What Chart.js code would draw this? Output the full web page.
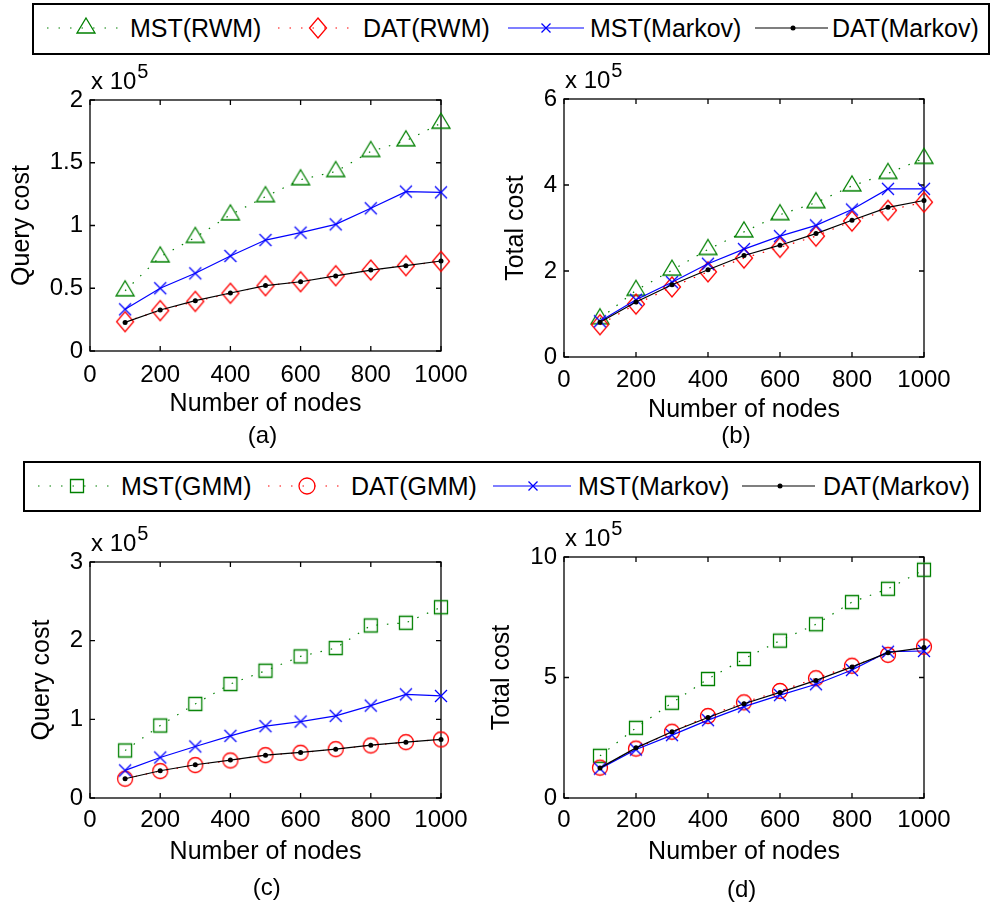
<!DOCTYPE html>
<html>
<head>
<meta charset="utf-8">
<script src="https://cdn.jsdelivr.net/npm/chart.js@4.4.1/dist/chart.umd.min.js"></script>
<style>
  html, body { margin: 0; padding: 0; background: #fff; }
  body { width: 995px; height: 904px; position: relative; overflow: hidden;
         font-family: "Liberation Sans", Arial, Helvetica, sans-serif; color: #000; }
  canvas { position: absolute; }
  .legend { position: absolute; border: 2px solid #000; box-sizing: border-box; }
  .item { position: absolute; font-size: 25px; line-height: 30px; white-space: nowrap; }
  .sub { position: absolute; width: 100px; text-align: center; font-size: 24px; line-height: 28px; }
</style>
</head>
<body>
<canvas id="chartA"></canvas>
<canvas id="chartB"></canvas>
<canvas id="chartC"></canvas>
<canvas id="chartD"></canvas>
<div id="overlay"></div>
<script>
// ---- data (values in units of 10^5) ----
const nodes = [100, 200, 300, 400, 500, 600, 700, 800, 900, 1000];
const xTickValues = [0, 200, 400, 600, 800, 1000];

const namesRwm = ['MST(RWM)', 'DAT(RWM)', 'MST(Markov)', 'DAT(Markov)'];
const namesGmm = ['MST(GMM)', 'DAT(GMM)', 'MST(Markov)', 'DAT(Markov)'];

// (a) query cost, RWM vs Markov
const aTicks      = [0, 0.5, 1, 1.5, 2];
const aMstRwm     = [0.48, 0.75, 0.905, 1.085, 1.23, 1.365, 1.43, 1.59, 1.675, 1.815];
const aDatRwm     = [0.234, 0.322, 0.395, 0.46, 0.52, 0.552, 0.60, 0.645, 0.68, 0.714];
const aMstMarkov  = [0.332, 0.50, 0.619, 0.757, 0.884, 0.943, 1.009, 1.137, 1.27, 1.264];
const aDatMarkov  = [0.228, 0.327, 0.401, 0.462, 0.521, 0.552, 0.598, 0.645, 0.68, 0.717];

// (b) total cost, RWM vs Markov
const bTicks      = [0, 2, 4, 6];
const bMstRwm     = [0.89, 1.55, 2.02, 2.50, 2.91, 3.31, 3.59, 3.98, 4.27, 4.62];
const bDatRwm     = [0.75, 1.23, 1.63, 1.98, 2.30, 2.55, 2.81, 3.16, 3.41, 3.60];
const bMstMarkov  = [0.83, 1.33, 1.74, 2.17, 2.51, 2.81, 3.06, 3.43, 3.91, 3.91];
const bDatMarkov  = [0.806, 1.28, 1.68, 2.03, 2.36, 2.60, 2.87, 3.18, 3.48, 3.64];

// (c) query cost, GMM vs Markov
const cTicks      = [0, 1, 2, 3];
const cMstGmm     = [0.604, 0.921, 1.196, 1.449, 1.618, 1.80, 1.906, 2.193, 2.227, 2.425];
const cDatGmm     = [0.245, 0.342, 0.418, 0.477, 0.545, 0.575, 0.621, 0.668, 0.71, 0.744];
const cMstMarkov  = [0.351, 0.515, 0.655, 0.79, 0.913, 0.972, 1.044, 1.175, 1.318, 1.297];
const cDatMarkov  = [0.245, 0.346, 0.423, 0.482, 0.545, 0.579, 0.621, 0.672, 0.71, 0.744];

// (d) total cost, GMM vs Markov
const dTicks      = [0, 5, 10];
const dMstGmm     = [1.75, 2.91, 3.95, 4.94, 5.77, 6.53, 7.21, 8.13, 8.68, 9.47];
const dDatGmm     = [1.26, 2.05, 2.75, 3.40, 3.97, 4.44, 4.97, 5.49, 5.94, 6.28];
const dMstMarkov  = [1.22, 2.01, 2.61, 3.23, 3.79, 4.27, 4.72, 5.31, 6.07, 6.10];
const dDatMarkov  = [1.25, 2.08, 2.75, 3.34, 3.91, 4.38, 4.88, 5.44, 6.03, 6.24];

const exponent = '5';

// ---- styles ----
const FONT = '"Liberation Sans", Arial, Helvetica, sans-serif';
const GREEN = '#008000', RED = '#ff0000', BLUE = '#0000ff', BLACK = '#000000';
const DOTS = [1.5, 9];
const TICK_SIZE = 24, TITLE_SIZE = 25;

const STYLES = {
  triangle: { color: GREEN, dash: DOTS },
  diamond:  { color: RED,   dash: DOTS },
  square:   { color: GREEN, dash: DOTS },
  circle:   { color: RED,   dash: DOTS },
  cross:    { color: BLUE,  dash: [] },
  dot:      { color: BLACK, dash: [] }
};

// marker shapes (used for point images and legend samples)
function drawShape(ctx, kind, cx, cy, color, small) {
  ctx.save();
  ctx.strokeStyle = color; ctx.fillStyle = color; ctx.lineWidth = 1.3;
  ctx.beginPath();
  if (kind === 'triangle') {            // centroid on the data point
    const w = 18, h = 15;
    ctx.moveTo(cx, cy - 2 * h / 3);
    ctx.lineTo(cx + w / 2, cy + h / 3);
    ctx.lineTo(cx - w / 2, cy + h / 3);
    ctx.closePath(); ctx.stroke();
  } else if (kind === 'diamond') {
    const w = 17, h = 20;
    ctx.moveTo(cx, cy - h / 2); ctx.lineTo(cx + w / 2, cy);
    ctx.lineTo(cx, cy + h / 2); ctx.lineTo(cx - w / 2, cy);
    ctx.closePath(); ctx.stroke();
  } else if (kind === 'square') {
    const a = 13;
    ctx.rect(cx - a / 2, cy - a / 2, a, a); ctx.stroke();
  } else if (kind === 'circle') {
    ctx.arc(cx, cy, small ? 8 : 7.5, 0, Math.PI * 2); ctx.stroke();
  } else if (kind === 'cross') {
    const r = small ? 4.5 : 6;
    ctx.moveTo(cx - r, cy - r); ctx.lineTo(cx + r, cy + r);
    ctx.moveTo(cx - r, cy + r); ctx.lineTo(cx + r, cy - r);
    ctx.stroke();
  } else if (kind === 'dot') {
    ctx.arc(cx, cy, 2.5, 0, Math.PI * 2); ctx.fill();
  }
  ctx.restore();
}

const markerCache = {};
function markerImg(kind) {
  if (!markerCache[kind]) {
    const c = document.createElement('canvas');
    c.width = 28; c.height = 28;
    drawShape(c.getContext('2d'), kind, 14, 14, STYLES[kind].color, false);
    markerCache[kind] = c;
  }
  return markerCache[kind];
}

function makeDataset(label, values, kind, order) {
  const st = STYLES[kind];
  return {
    label,
    data: nodes.map((n, i) => ({ x: n, y: values[i] })),
    borderColor: st.color,
    backgroundColor: st.color,
    borderWidth: 1.2,
    borderDash: st.dash,
    pointStyle: kind === 'dot' ? 'circle' : markerImg(kind),
    pointRadius: kind === 'dot' ? 2.5 : 8,
    pointBorderWidth: 0,
    pointBackgroundColor: st.color,
    clip: false,
    order
  };
}

// box, inward tick marks and the "x 10^5" multiplier
const framePlugin = {
  id: 'frame',
  beforeDatasetsDraw(chart) {
    const { ctx, chartArea: a, scales: { x, y } } = chart;
    ctx.save();
    ctx.strokeStyle = '#000';
    ctx.lineWidth = 1.3;
    ctx.strokeRect(a.left, a.top, a.right - a.left, a.bottom - a.top);
    ctx.beginPath();
    x.ticks.forEach(t => {
      const px = x.getPixelForValue(t.value);
      ctx.moveTo(px, a.bottom); ctx.lineTo(px, a.bottom - 5);
      ctx.moveTo(px, a.top);    ctx.lineTo(px, a.top + 5);
    });
    y.ticks.forEach(t => {
      const py = y.getPixelForValue(t.value);
      ctx.moveTo(a.left, py);  ctx.lineTo(a.left + 5, py);
      ctx.moveTo(a.right, py); ctx.lineTo(a.right - 5, py);
    });
    ctx.stroke();
    ctx.fillStyle = '#000';
    ctx.textAlign = 'left';
    ctx.textBaseline = 'alphabetic';
    ctx.font = '24px ' + FONT;
    const base = 'x 10';
    ctx.fillText(base, a.left + 1, a.top - 11);
    const w = ctx.measureText(base).width;
    ctx.font = '20px ' + FONT;
    ctx.fillText(exponent, a.left + 2 + w, a.top - 22);
    ctx.restore();
  }
};

function buildPanel(p) {
  const cv = document.getElementById(p.id);
  const [bx, by, bw, bh] = p.box;
  const [al, at, ar, ab] = p.area;
  cv.width = bw; cv.height = bh;
  cv.style.left = bx + 'px'; cv.style.top = by + 'px';
  const titleHalf = TITLE_SIZE * 1.2 / 2;
  const tickHalf = TICK_SIZE * 1.2 / 2;

  new Chart(cv, {
    type: 'line',
    data: { datasets: p.datasets },
    options: {
      responsive: false,
      animation: false,
      events: [],
      layout: { padding: { left: 0, top: at - by, right: bx + bw - ar, bottom: 0 } },
      plugins: { legend: { display: false }, tooltip: { enabled: false } },
      scales: {
        x: {
          type: 'linear', min: 0, max: 1000,
          afterBuildTicks: s => { s.ticks = xTickValues.map(v => ({ value: v })); },
          afterFit: s => { s.height = by + bh - ab; },
          grid: { display: false, drawTicks: false },
          border: { display: false },
          ticks: { color: '#000', padding: p.xPad - tickHalf,
                   font: { family: FONT, size: TICK_SIZE },
                   callback: v => String(v), maxRotation: 0, autoSkip: false },
          title: { display: true, text: 'Number of nodes', color: '#000',
                   font: { family: FONT, size: TITLE_SIZE, lineHeight: 1.2 },
                   padding: { top: 0, bottom: by + bh - titleHalf - p.xTitleY } }
        },
        y: {
          type: 'linear', min: p.yTicks[0], max: p.yTicks[p.yTicks.length - 1],
          afterBuildTicks: s => { s.ticks = p.yTicks.map(v => ({ value: v })); },
          afterFit: s => { s.width = al - bx; },
          grid: { display: false, drawTicks: false },
          border: { display: false },
          ticks: { color: '#000', padding: 7,
                   font: { family: FONT, size: TICK_SIZE },
                   callback: v => String(v), autoSkip: false },
          title: { display: true, text: p.yTitle, color: '#000',
                   font: { family: FONT, size: TITLE_SIZE, lineHeight: 1.2 },
                   padding: { top: p.yTitleX - bx - titleHalf, bottom: 0 } }
        }
      }
    },
    plugins: [framePlugin]
  });
}

function datasetsFor(names, mst, dat, mstMk, datMk, mstKind, datKind) {
  return [
    makeDataset(names[0], mst, mstKind, 4),
    makeDataset(names[1], dat, datKind, 3),
    makeDataset(names[2], mstMk, 'cross', 2),
    makeDataset(names[3], datMk, 'dot', 1)
  ];
}

buildPanel({ id: 'chartA', box: [0, 56, 480, 380], area: [90, 100, 441, 351],
  yTitle: 'Query cost', yTitleX: 22, xTitleY: 404.5, xPad: 24, yTicks: aTicks,
  datasets: datasetsFor(namesRwm, aMstRwm, aDatRwm, aMstMarkov, aDatMarkov, 'triangle', 'diamond') });
buildPanel({ id: 'chartB', box: [480, 56, 515, 380], area: [564, 99, 924, 357],
  yTitle: 'Total cost', yTitleX: 516, xTitleY: 410, xPad: 23, yTicks: bTicks,
  datasets: datasetsFor(namesRwm, bMstRwm, bDatRwm, bMstMarkov, bDatMarkov, 'triangle', 'diamond') });
buildPanel({ id: 'chartC', box: [0, 518, 480, 386], area: [90, 562, 441, 798],
  yTitle: 'Query cost', yTitleX: 42.5, xTitleY: 851.7, xPad: 22, yTicks: cTicks,
  datasets: datasetsFor(namesGmm, cMstGmm, cDatGmm, cMstMarkov, cDatMarkov, 'square', 'circle') });
buildPanel({ id: 'chartD', box: [480, 518, 515, 386], area: [564, 557, 924, 798],
  yTitle: 'Total cost', yTitleX: 502.5, xTitleY: 851.7, xPad: 22, yTicks: dTicks,
  datasets: datasetsFor(namesGmm, dMstGmm, dDatGmm, dMstMarkov, dDatMarkov, 'square', 'circle') });

// ---- legends and sub-captions (HTML) ----
const overlay = document.getElementById('overlay');

function addLegend(box, cy, names, kinds, items) {
  const lg = document.createElement('div');
  lg.className = 'legend';
  lg.style.left = box[0] + 'px'; lg.style.top = box[1] + 'px';
  lg.style.width = (box[2] - box[0]) + 'px'; lg.style.height = (box[3] - box[1]) + 'px';
  overlay.appendChild(lg);
  items.forEach((it, i) => {
    const c = document.createElement('canvas');
    const w = it.x1 - it.x0;
    c.width = w; c.height = 30;
    c.style.left = it.x0 + 'px'; c.style.top = (cy - 15) + 'px';
    const ctx = c.getContext('2d');
    const st = STYLES[kinds[i]];
    ctx.strokeStyle = st.color; ctx.lineWidth = 1.2;
    ctx.setLineDash(st.dash.length ? [1.5, 10] : []);
    ctx.beginPath(); ctx.moveTo(0, 15); ctx.lineTo(w, 15); ctx.stroke();
    ctx.setLineDash([]);
    drawShape(ctx, kinds[i], it.mx - it.x0, 15, st.color, true);
    overlay.appendChild(c);
    const t = document.createElement('div');
    t.className = 'item';
    t.textContent = names[i];
    t.style.left = (it.tx - 2) + 'px'; t.style.top = (cy - 15) + 'px';
    overlay.appendChild(t);
  });
}

addLegend([32, 3, 990, 55], 28, namesRwm, ['triangle', 'diamond', 'cross', 'dot'], [
  { x0: 47, x1: 119, mx: 86, tx: 132 },
  { x0: 278, x1: 350, mx: 318, tx: 365 },
  { x0: 508, x1: 584, mx: 546, tx: 592 },
  { x0: 755, x1: 828, mx: 793, tx: 834 }
]);
addLegend([23, 461, 981, 512], 486, namesGmm, ['square', 'circle', 'cross', 'dot'], [
  { x0: 38, x1: 110, mx: 77, tx: 123 },
  { x0: 268, x1: 340, mx: 307, tx: 353 },
  { x0: 493, x1: 571, mx: 533, tx: 580 },
  { x0: 742, x1: 815, mx: 780, tx: 825 }
]);

[['(a)', 262.5, 437], ['(b)', 736, 437], ['(c)', 266.7, 889], ['(d)', 741.7, 891]].forEach(([txt, x, y]) => {
  const d = document.createElement('div');
  d.className = 'sub';
  d.textContent = txt;
  d.style.left = (x - 50) + 'px';
  d.style.top = (y - 16) + 'px';
  overlay.appendChild(d);
});
</script>
</body>
</html>
